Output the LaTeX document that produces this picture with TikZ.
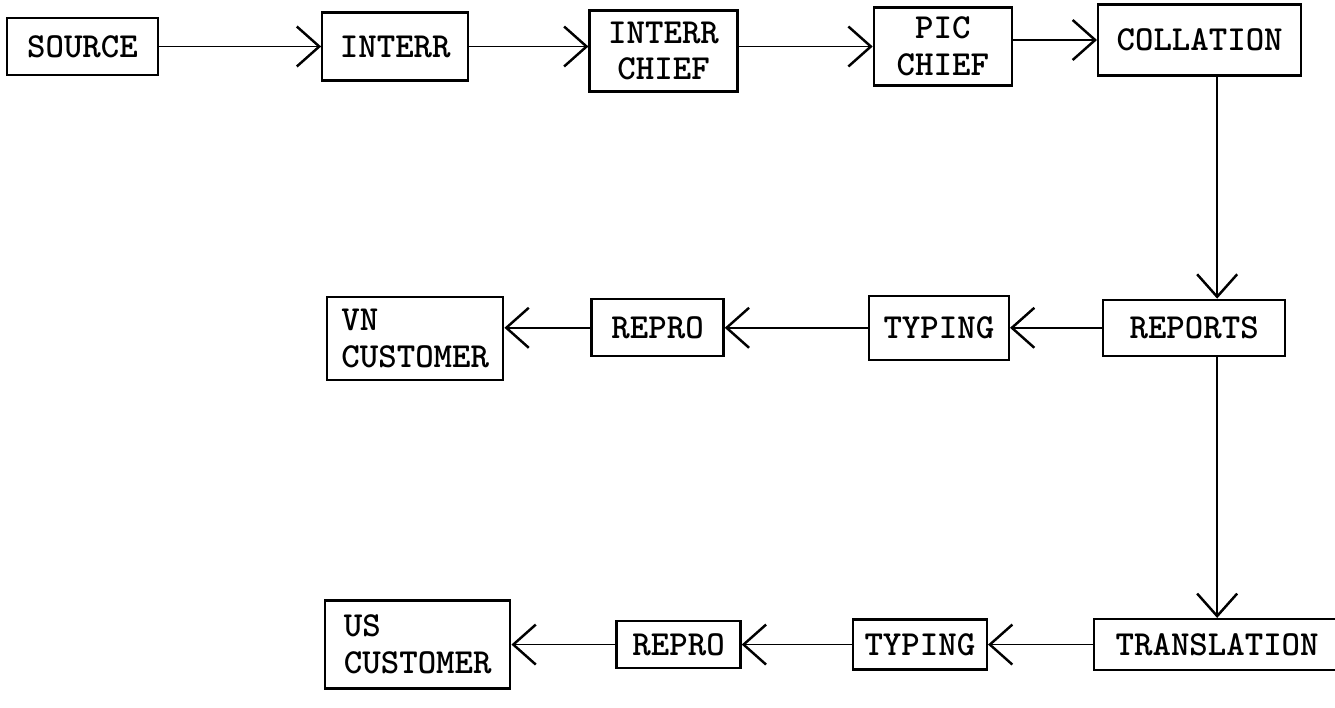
\documentclass[tikz,border=0pt]{standalone}
\usepackage{tikz}
\usetikzlibrary{positioning, arrows.meta}

\begin{document}
\begin{tikzpicture}[
    box/.style={draw, line width=1.3pt, inner sep=2pt, align=center,
                font=\fontsize{20}{21}\selectfont\ttfamily\bfseries},
    arr/.style={-{Straight Barb[length=4.5mm, width=8mm, line width=1.4pt]}, line width=0.9pt}
  ]
    \useasboundingbox (0,0) rectangle (26.7,-14.14);

    % top row
    \node[box, minimum width=3.02cm, minimum height=1.14cm] (source) at (1.65,-0.93) {SOURCE};
    \node[box, minimum width=2.92cm, minimum height=1.36cm, right=3.24cm of source] (interr) {INTERR};
    \node[box, minimum width=2.96cm, minimum height=1.62cm, right=2.38cm of interr, yshift=-0.09cm] (ichief) {INTERR\\CHIEF};
    \node[box, minimum width=2.76cm, minimum height=1.56cm, right=2.68cm of ichief, yshift=0.09cm] (pchief) {PIC\\CHIEF};
    \node[box, minimum width=4.06cm, minimum height=1.42cm, right=1.68cm of pchief, yshift=0.13cm] (collation) {COLLATION};

    % right column
    \node[box, minimum width=3.64cm, minimum height=1.12cm, below=4.44cm of collation, xshift=-0.11cm] (reports) {REPORTS};
    \node[box, minimum width=4.92cm, minimum height=1.02cm, below=5.22cm of reports, xshift=0.46cm] (translation) {TRANSLATION};

    % VN branch
    \node[box, minimum width=2.8cm, minimum height=1.28cm, left=1.84cm of reports] (typingvn) {TYPING};
    \node[box, minimum width=2.64cm, minimum height=1.14cm, left=2.86cm of typingvn] (reprovn) {REPRO};
    \node[box, minimum width=3.52cm, minimum height=1.66cm, left=1.72cm of reprovn, yshift=-0.22cm, align=left] (vncust) {VN\\CUSTOMER};

    % US branch
    \node[box, minimum width=2.68cm, minimum height=1.0cm, left=2.1cm of translation] (typingus) {TYPING};
    \node[box, minimum width=2.48cm, minimum height=0.94cm, left=2.2cm of typingus] (reprous) {REPRO};
    \node[box, minimum width=3.7cm, minimum height=1.76cm, left=2.08cm of reprous, align=left] (uscust) {US\\CUSTOMER};

    \draw[arr] (source.east) -- (source.east -| interr.west);
    \draw[arr] (interr.east) -- (interr.east -| ichief.west);
    \draw[arr] (ichief.east |- pchief.west) -- (pchief.west);
    \draw[arr] (pchief.east |- collation.west) -- (collation.west);
    \draw[arr] (collation.south -| translation.north) -- (reports.north -| translation.north);
    \draw[arr] (reports.south -| translation.north) -- (translation.north);

    \draw[arr] (reports.west) -- (reports.west -| typingvn.east);
    \draw[arr] (typingvn.west) -- (typingvn.west -| reprovn.east);
    \draw[arr] (reprovn.west) -- (reprovn.west -| vncust.east);

    \draw[arr] (translation.west) -- (translation.west -| typingus.east);
    \draw[arr] (typingus.west) -- (typingus.west -| reprous.east);
    \draw[arr] (reprous.west) -- (reprous.west -| uscust.east);
  \end{tikzpicture}
\end{document}
